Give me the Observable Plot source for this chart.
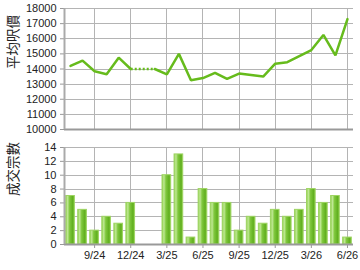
<!DOCTYPE html>
<html>
<head>
<meta charset="utf-8">
<script src="https://cdn.jsdelivr.net/npm/d3@7"></script>
<script src="https://cdn.jsdelivr.net/npm/@observablehq/plot@0.6"></script>
<style>
  html, body { margin: 0; padding: 0; background: #fff; }
  #chart { width: 360px; height: 270px; overflow: hidden; }
  #chart svg { display: block; overflow: visible; }
</style>
</head>
<body>
<div id="chart"></div>
<script>
const months = ["7/24","8/24","9/24","10/24","11/24","12/24","1/25","2/25","3/25","4/25","5/25","6/25",
                "7/25","8/25","9/25","10/25","11/25","12/25","1/26","2/26","3/26","4/26","5/26","6/26"];
const prices = [14200,14550,13850,13650,14750,14000,null,14000,13650,15000,13250,13400,
                13750,13350,13700,13600,13500,14350,14450,14850,15250,16250,14900,17300];
const counts = [7,5,2,4,3,6,0,0,10,13,1,8,6,6,2,4,3,5,4,5,8,6,7,1];
const tickLabels = ["9/24","12/24","3/25","6/25","9/25","12/25","3/26","6/26"];
const priceTicks = [10000,11000,12000,13000,14000,15000,16000,17000,18000];
const countTicks = [0,2,4,6,8,10,12,14];
const priceTitle = "平均呎價";
const countTitle = "成交宗數";

const rows = months.map((m, i) => ({i, m, price: prices[i], count: counts[i]}));
const xTicks = tickLabels.map(l => months.indexOf(l));
const xDomain = [-0.5, months.length - 0.5];

// dotted bridges across missing price months
const bridges = [];
let grp = 0;
for (let i = 1; i < rows.length; i++) {
  if (rows[i].price == null) {
    let a = i - 1; let b = i;
    while (b < rows.length && rows[b].price == null) b++;
    if (a >= 0 && b < rows.length && rows[a].price != null) {
      bridges.push({...rows[a], grp}, {...rows[b], grp});
      grp++;
    }
    i = b;
  }
}

const green = "#66bb1c";
const gridColor = "#b4b4b4";
const axisColor = "#999999";
const font = "'Liberation Sans', Arial, sans-serif";
const cjk = "'Noto Sans CJK SC', 'Noto Sans CJK TC', sans-serif";
const gridStyle = {stroke: gridColor, strokeOpacity: 1, strokeWidth: 1, shapeRendering: "crispEdges"};

const priceChart = Plot.plot({
  width: 360, height: 135,
  marginLeft: 64, marginRight: 7, marginTop: 8, marginBottom: 6,
  x: {domain: xDomain, axis: null},
  y: {domain: [10000, 18000], axis: null},
  style: {fontFamily: font, fontSize: "11px", color: "#222", background: "#fff"},
  marks: [
    Plot.ruleY(priceTicks, {y: d => d, ...gridStyle}),
    Plot.ruleX(xTicks, {x: d => d, ...gridStyle}),
    Plot.axisY({ticks: priceTicks, tickFormat: "d", tickSize: 4, tickPadding: 4, stroke: axisColor, label: null, fontSize: 11}),
    Plot.ruleY([10000], {stroke: axisColor, strokeWidth: 2}),
    Plot.ruleX([xDomain[0]], {stroke: "#aaa", strokeWidth: 2}),
    Plot.line(bridges, {x: "i", y: "price", z: "grp", stroke: green, strokeWidth: 2.5, strokeDasharray: "2 2", strokeLinecap: "butt"}),
    Plot.line(rows, {x: "i", y: "price", stroke: green, strokeWidth: 2.5, strokeLinejoin: "miter"}),
    Plot.text([priceTitle], {frameAnchor: "left", dx: -51, rotate: -90, fontSize: 13.5, fontFamily: cjk, fill: "#222"})
  ]
});

const countChart = Plot.plot({
  width: 360, height: 135,
  marginLeft: 64, marginRight: 7, marginTop: 12, marginBottom: 26,
  x: {domain: xDomain, axis: null},
  y: {domain: [0, 14], axis: null},
  style: {fontFamily: font, fontSize: "11px", color: "#222", background: "#fff"},
  marks: [
    Plot.ruleY(countTicks, {y: d => d, ...gridStyle}),
    Plot.ruleX(xTicks, {x: d => d, ...gridStyle}),
    Plot.axisY({ticks: countTicks, tickSize: 4, tickPadding: 4, stroke: axisColor, label: null, fontSize: 11}),
    Plot.axisX({ticks: xTicks, tickFormat: i => months[i], tickSize: 4, tickPadding: 3, stroke: axisColor, label: null, fontSize: 11}),
    Plot.rectY(rows.filter(d => d.count > 0), {
      x1: d => d.i - 0.36, x2: d => d.i + 0.36, y: "count",
      fill: "url(#barGrad)", stroke: "#9ed462", strokeWidth: 1
    }),
    Plot.ruleY([0], {stroke: axisColor, strokeWidth: 2}),
    Plot.ruleX([xDomain[0]], {stroke: "#aaa", strokeWidth: 2}),
    Plot.text([countTitle], {frameAnchor: "left", dx: -51, rotate: -90, fontSize: 13.5, fontFamily: cjk, fill: "#222"})
  ]
});

const defs = d3.select(countChart).insert("defs", ":first-child");
const grad = defs.append("linearGradient").attr("id", "barGrad")
  .attr("x1", "0").attr("x2", "1").attr("y1", "0").attr("y2", "0");
[["0%", "#8fd04c"], ["22%", "#bfe893"], ["45%", "#80c83e"], ["80%", "#62b020"], ["100%", "#79c336"]]
  .forEach(([o, c]) => grad.append("stop").attr("offset", o).attr("stop-color", c));

const el = document.getElementById("chart");
el.appendChild(priceChart);
el.appendChild(countChart);
</script>
</body>
</html>
